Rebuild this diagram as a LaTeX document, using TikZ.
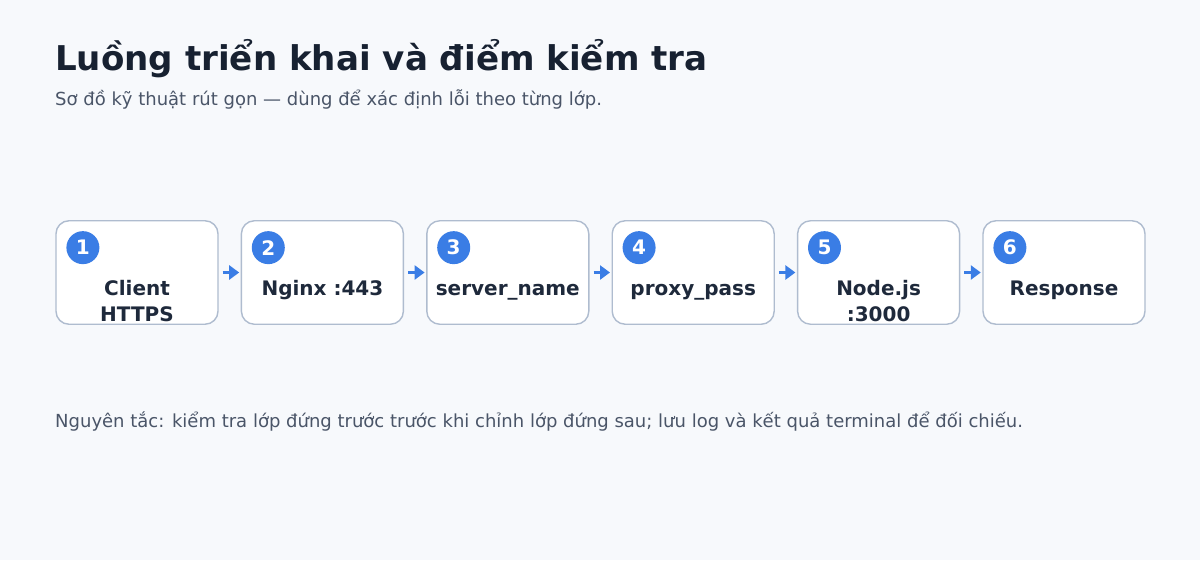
\documentclass[tikz,border=0pt]{standalone}
\usepackage{fontspec}
\setmainfont{DejaVu Sans}
\usetikzlibrary{arrows.meta}
\definecolor{bgc}{HTML}{F7F9FC}
\definecolor{boxborder}{HTML}{AFBCCF}
\definecolor{badgec}{HTML}{3A7DE5}
\definecolor{labelc}{HTML}{1E293B}
\definecolor{titlec}{HTML}{172131}
\definecolor{subc}{HTML}{4A5568}
\tikzset{
  stepbox/.style={draw=boxborder, line width=1.4pt, fill=white, rounded corners=13pt,
    minimum width=162pt, minimum height=103.5pt, inner sep=0pt},
  badge/.style={circle, fill=badgec, minimum size=33pt, inner sep=0pt, text=white,
    font=\fontsize{20}{22}\selectfont\bfseries},
  steplabel/.style={anchor=north, inner sep=0pt, align=center, text=labelc,
    font=\fontsize{20}{26.7}\selectfont\bfseries},
  flow/.style={draw=badgec, line width=3.5pt, -{Triangle[length=10pt,width=14pt]}},
  note/.style={anchor=base west, inner sep=0pt, text=subc}
}
\begin{document}
\begin{tikzpicture}[x=1pt,y=-1pt]
\fill[bgc] (0,0) rectangle (1200,560);
\useasboundingbox (0,0) rectangle (1200,560);
\node[anchor=base west, inner sep=0pt, text=titlec, font=\fontsize{34.1}{40}\selectfont\bfseries] (title) at (55,70) {Luồng triển khai và điểm kiểm tra};
\node[note, font=\fontsize{18}{21}\selectfont] (subtitle) at (55,105) {Sơ đồ kỹ thuật rút gọn — dùng để xác định lỗi theo từng lớp.};
\foreach \i/\lbl in {1/{Client\\HTTPS},2/{Nginx :443},3/{server\_name},4/{proxy\_pass},5/{Node.js\\:3000},6/{Response}}{
  \node[stepbox] (b\i) at ({137+185.4*(\i-1)},272.5) {};
  \node[badge] (n\i) at ([xshift=27.6pt,yshift=-27.6pt]b\i.north west) {\i};
  \node[steplabel] (l\i) at ({137+185.4*(\i-1)},276.3) {\strut\lbl};
}
\foreach \i in {1,...,5}{
  \pgfmathtruncatemacro{\j}{\i+1}
  \draw[flow] ([xshift=4pt]b\i.east) -- ([xshift=-1.5pt]b\j.west);
}
\node[note, font=\fontsize{18}{21}\selectfont] (footer) at (55,427) {Nguyên tắc: kiểm tra lớp đứng trước trước khi chỉnh lớp đứng sau; lưu log và kết quả terminal để đối chiếu.};
\end{tikzpicture}
\end{document}
